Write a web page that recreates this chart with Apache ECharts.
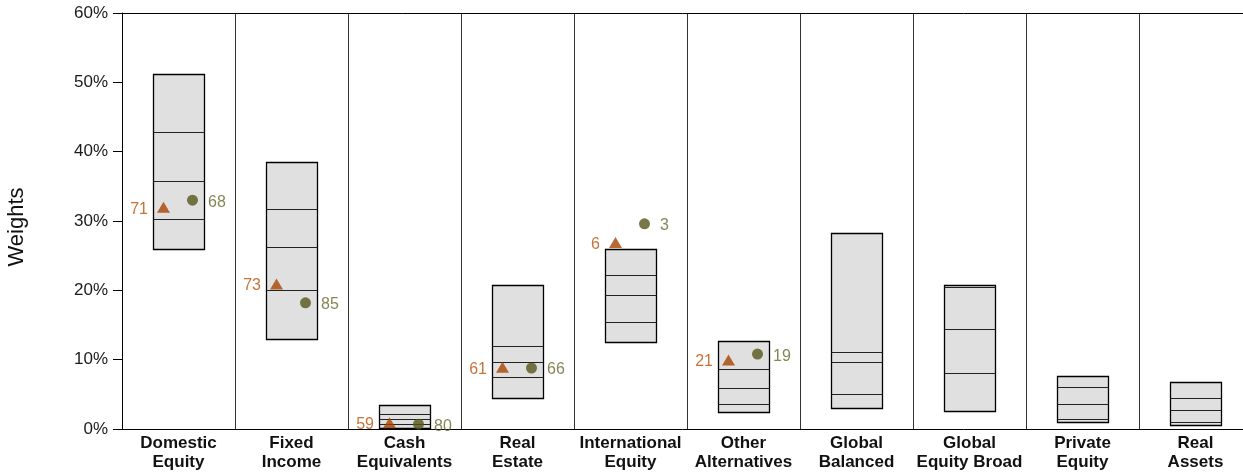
<!DOCTYPE html>
<html>
<head>
<meta charset="utf-8">
<script src="https://cdn.jsdelivr.net/npm/echarts@6/dist/echarts.min.js"></script>
<style>
html,body{margin:0;padding:0;background:#fff;}
#chart{width:1243px;height:472px;}
</style>
</head>
<body>
<div id="chart"></div>
<script>
var categories = ['Domestic\nEquity', 'Fixed\nIncome', 'Cash\nEquivalents', 'Real\nEstate', 'International\nEquity', 'Other\nAlternatives', 'Global\nBalanced', 'Global\nEquity Broad', 'Private\nEquity', 'Real\nAssets'];
var p5  = [25.9, 13.0, 0.1, 4.5, 12.5, 2.4, 3.1, 2.6, 0.95, 0.6];
var p25 = [30.3, 20.1, 0.7, 7.45, 15.5, 3.65, 5.1, 8.1, 1.4, 1.05];
var p50 = [35.8, 26.2, 1.4, 9.7, 19.3, 5.9, 9.6, 14.4, 3.55, 2.75];
var p75 = [42.9, 31.7, 2.1, 11.9, 22.2, 8.65, 11.05, 20.5, 6.1, 4.47];
var p95 = [51.2, 38.5, 3.5, 20.8, 25.9, 12.7, 28.3, 20.7, 7.6, 6.8];
var triValues = [32.0, 20.9, 0.9, 8.9, 26.9, 9.95, null, null, null, null];
var triRanks  = [71, 73, 59, 61, 6, 21, null, null, null, null];
var dotValues = [33.0, 18.2, 0.7, 8.8, 29.6, 10.8, null, null, null, null];
var dotRanks  = [68, 85, 80, 66, 3, 19, null, null, null, null];
var yTicks = [0, 10, 20, 30, 40, 50, 60];

var FONT = 'Arial, "Liberation Sans", sans-serif';

var boxData = categories.map(function (c, i) {
  return [i, p5[i], p25[i], p50[i], p75[i], p95[i]];
});
var triData = triValues.map(function (v, i) { return v == null ? null : { value: [i, v], rank: triRanks[i] }; }).filter(Boolean);
var dotData = dotValues.map(function (v, i) { return v == null ? null : { value: [i, v], rank: dotRanks[i] }; }).filter(Boolean);

function renderBox(params, api) {
  var idx = api.value(0);
  var w = api.size([1, 0])[0] * 0.45;
  var bottom = api.coord([idx, api.value(1)]);
  var top = api.coord([idx, api.value(5)]);
  var x0 = Math.round(bottom[0] - w / 2) + 0.5;
  var x1 = Math.round(bottom[0] + w / 2) + 0.5;
  var children = [{
    type: 'rect',
    shape: { x: x0, y: Math.round(top[1]) + 0.5, width: x1 - x0, height: Math.round(bottom[1]) - Math.round(top[1]) },
    style: { fill: '#E0E0E0', stroke: '#000', lineWidth: 1.3 }
  }];
  [2, 3, 4].forEach(function (k) {
    var p = api.coord([idx, api.value(k)]);
    var y = Math.round(p[1]) + 0.5;
    children.push({
      type: 'line',
      shape: { x1: x0, y1: y, x2: x1, y2: y },
      style: { stroke: '#222', lineWidth: 1 }
    });
  });
  return { type: 'group', children: children };
}

var chart = echarts.init(document.getElementById('chart'), null, { renderer: 'canvas' });
chart.setOption({
  animation: false,
  backgroundColor: '#fff',
  grid: { left: 122, top: 13, width: 1130, height: 416, containLabel: false, outerBoundsMode: 'none' },
  xAxis: [{
    type: 'category',
    data: categories,
    boundaryGap: true,
    axisLine: { show: true, lineStyle: { color: '#000', width: 1 } },
    axisTick: { show: false },
    splitLine: { show: true, interval: 0, lineStyle: { color: '#333', width: 1 } },
    axisLabel: {
      interval: 0,
      margin: 5,
      fontFamily: FONT,
      fontSize: 17,
      fontWeight: 'bold',
      color: '#111',
      lineHeight: 19
    }
  }, {
    type: 'category',
    position: 'top',
    data: categories,
    axisLine: { show: true, lineStyle: { color: '#000', width: 1 } },
    axisTick: { show: false },
    axisLabel: { show: false },
    splitLine: { show: false }
  }],
  yAxis: {
    type: 'value',
    min: yTicks[0],
    max: yTicks[yTicks.length - 1],
    interval: 10,
    name: 'Weights',
    nameLocation: 'middle',
    nameRotate: 90,
    nameGap: 94,
    nameTextStyle: { fontFamily: FONT, fontSize: 22, color: '#111', padding: [0, 12, 0, 0] },
    axisLine: { show: true, lineStyle: { color: '#000', width: 1 } },
    axisTick: { show: true, inside: false, length: 9, lineStyle: { color: '#000' } },
    splitLine: { show: false },
    axisLabel: {
      margin: 14,
      fontFamily: FONT,
      fontSize: 17,
      color: '#1a1a1a',
      formatter: '{value}%'
    }
  },
  series: [{
    type: 'custom',
    renderItem: renderBox,
    encode: { x: 0, y: [1, 2, 3, 4, 5] },
    data: boxData,
    z: 2
  }, {
    type: 'scatter',
    data: triData,
    symbol: 'triangle',
    symbolSize: [13, 11],
    symbolOffset: [-15, 0],
    itemStyle: { color: '#A84400' },
    label: {
      show: true,
      position: 'left',
      distance: 9,
      offset: [0, 2],
      fontFamily: FONT,
      fontSize: 16,
      color: '#B85008',
      formatter: function (p) { return p.data.rank; }
    },
    z: 5
  }, {
    type: 'scatter',
    data: dotData,
    symbol: 'circle',
    symbolSize: 11,
    symbolOffset: [14, 0],
    itemStyle: { color: '#55551A' },
    label: {
      show: true,
      position: 'right',
      distance: 10,
      offset: [0, 2],
      fontFamily: FONT,
      fontSize: 16,
      color: '#66662A',
      formatter: function (p) { return p.data.rank; }
    },
    z: 5
  }]
});
</script>
</body>
</html>
